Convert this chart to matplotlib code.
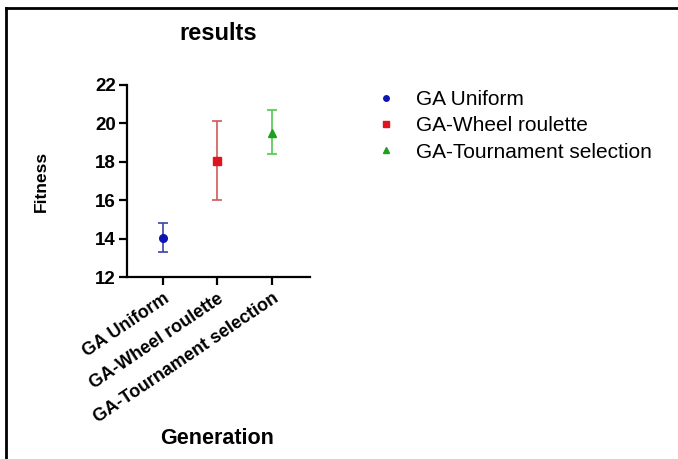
import matplotlib.pyplot as plt
from matplotlib.lines import Line2D

plt.rcParams['font.family'] = ['Liberation Sans', 'DejaVu Sans']

# mean fitness and error range per method
groups = ['GA Uniform', 'GA-Wheel roulette', 'GA-Tournament selection']
means = [14.05, 18.05, 19.5]
lower = [13.3, 16.0, 18.4]
upper = [14.8, 20.1, 20.7]

markers = ['o', 's', '^']
colors = ['#0c16b0', '#e0141e', '#1ea01e']
bar_colors = ['#3c46a0', '#d05a5a', '#50c850']

fig = plt.figure(figsize=(6.78, 4.59), dpi=100)
ax = fig.add_axes([127 / 678, 1 - 277 / 459, 183 / 678, 192 / 459])

for i, g in enumerate(groups):
    err = [[means[i] - lower[i]], [upper[i] - means[i]]]
    ax.errorbar([i], [means[i]], yerr=err, fmt='none', ecolor=bar_colors[i],
                elinewidth=1.2, capsize=3.8, capthick=1.2)
    ax.plot([i], [means[i]], marker=markers[i], color=colors[i], markersize=5.5,
            linestyle='none', label=g)

ax.set_ylim(12, 22)
ax.set_yticks([12, 14, 16, 18, 20, 22])
ax.set_xlim(-0.66, 2.70)
ax.set_xticks(range(len(groups)))
ax.set_xticklabels(groups, rotation=34, ha='right', va='top',
                   rotation_mode='anchor', fontweight='bold', fontsize=13)

for lab in ax.get_yticklabels():
    lab.set_fontweight('bold')
    lab.set_fontsize(13.5)

ax.spines['top'].set_visible(False)
ax.spines['right'].set_visible(False)
ax.spines['left'].set_linewidth(1.6)
ax.spines['bottom'].set_linewidth(1.6)
ax.tick_params(axis='y', length=6, width=1.6, pad=2)
ax.tick_params(axis='x', length=5.5, width=1.6, pad=4)

ax.set_ylabel('Fitness', fontweight='bold', fontsize=12.5)
ax.yaxis.set_label_coords(-(127 - 49) / 183, (277 - 181) / 192)
fig.text(217 / 678, 1 - 438 / 459, 'Generation', fontweight='bold', fontsize=15.5,
         ha='center', va='center')
fig.text(218 / 678, 1 - 34 / 459, 'results', fontweight='bold', fontsize=17,
         ha='center', va='center')

fig.legend(loc='upper left', bbox_to_anchor=(367 / 678, 1 - 82 / 459),
           frameon=False, fontsize=15, markerscale=0.72, handlelength=1.05,
           handletextpad=0.9, labelspacing=0.34, borderaxespad=0)

# frame lines along the top and left edge
fig.add_artist(Line2D([6 / 678, 1], [1 - 8 / 459, 1 - 8 / 459], color='black', linewidth=2))
fig.add_artist(Line2D([6 / 678, 6 / 678], [0, 1 - 8 / 459], color='black', linewidth=2))

fig.savefig('out.png', dpi=100)
